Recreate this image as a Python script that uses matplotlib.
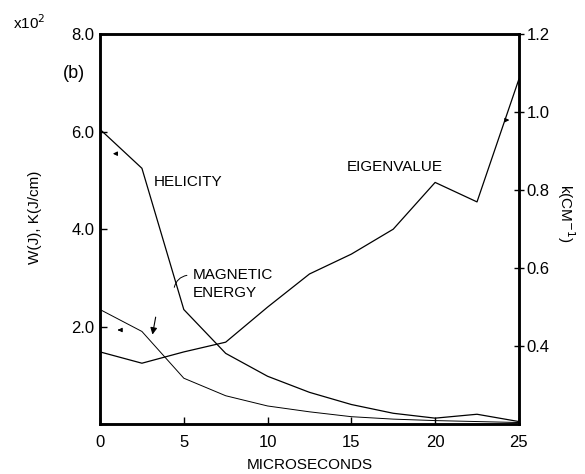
import matplotlib
matplotlib.use("Agg")
import matplotlib.pyplot as plt

plt.rcParams['font.family'] = ['Liberation Sans', 'DejaVu Sans']

# time in microseconds
t = [0, 2.5, 5, 7.5, 10, 12.5, 15, 17.5, 20, 22.5, 25]

# left axis (x10^2)
helicity = [6.05, 5.25, 2.35, 1.45, 0.98, 0.65, 0.40, 0.22, 0.12, 0.20, 0.05]
magnetic_energy = [2.35, 1.90, 0.94, 0.58, 0.37, 0.25, 0.15, 0.10, 0.07, 0.05, 0.03]

# right axis, k (cm^-1)
eigenvalue = [0.385, 0.356, 0.385, 0.41, 0.50, 0.585, 0.636, 0.70, 0.82, 0.77, 1.085]

left_ticks = [0, 2.0, 4.0, 6.0, 8.0]
left_labels = ["", "2.0", "4.0", "6.0", "8.0"]
right_ticks = [0.4, 0.6, 0.8, 1.0, 1.2]
right_labels = ["0.4", "0.6", "0.8", "1.0", "1.2"]
x_ticks = [0, 5, 10, 15, 20, 25]

fig = plt.figure(figsize=(5.85, 4.74), dpi=100)
ax = fig.add_axes([0.171, 0.1055, 0.716, 0.822])
ax2 = ax.twinx()

ax.plot(t, helicity, color='black', lw=0.9)
ax.plot(t, magnetic_energy, color='black', lw=0.7)
ax2.plot(t, eigenvalue, color='black', lw=0.9)

ax.set_xlim(0, 25)
ax.set_ylim(0, 8.0)
ax2.set_ylim(0.2, 1.2)

ax.set_xticks(x_ticks)
ax.set_xticklabels([str(v) for v in x_ticks])
ax.set_yticks(left_ticks)
ax.set_yticklabels(left_labels)
ax2.set_yticks(right_ticks)
ax2.set_yticklabels(right_labels)

for a in (ax, ax2):
    for s in a.spines.values():
        s.set_linewidth(1.8)
ax.tick_params(axis='both', direction='in', length=5, width=1, labelsize=12, pad=4)
ax.tick_params(axis='x', pad=8)
ax2.tick_params(axis='y', direction='inout', length=7, width=1, labelsize=12, pad=2)

ax.set_xlabel("MICROSECONDS", fontsize=11, labelpad=6)
ax.set_ylabel("W(J), K(J/cm)", fontsize=11)
ax.yaxis.set_label_coords(-0.138, 0.53)
ax2.set_ylabel("k(CM$^{-1}$)", fontsize=11, rotation=-90)
ax2.yaxis.set_label_coords(1.137, 0.54)

fig.text(0.022, 0.952, "x10$^2$", fontsize=11, va='center')
ax.text(-0.088, 0.9, "(b)", transform=ax.transAxes, fontsize=13, va='center')

ax.text(3.2, 4.96, "HELICITY", fontsize=11, va='center')
ax.text(5.55, 3.06, "MAGNETIC", fontsize=11, va='center')
ax.text(5.55, 2.69, "ENERGY", fontsize=11, va='center')
ax2.text(14.7, 0.86, "EIGENVALUE", fontsize=11, va='center')

# small arrows marking which axis each curve uses
ax.annotate("", xy=(0.6, 5.55), xytext=(1.1, 5.55),
            arrowprops=dict(arrowstyle='-|>', color='black', lw=0.8, mutation_scale=6))
ax.annotate("", xy=(1.05, 1.93), xytext=(1.35, 1.93),
            arrowprops=dict(arrowstyle='-|>', color='black', lw=0.8, mutation_scale=6))
ax2.annotate("", xy=(24.6, 0.98), xytext=(24.1, 0.98),
             arrowprops=dict(arrowstyle='-|>', color='black', lw=0.8, mutation_scale=6))

# leader from the magnetic energy label
ax.annotate("", xy=(4.4, 2.75), xytext=(5.35, 3.06),
            arrowprops=dict(arrowstyle='-', color='black', lw=0.7,
                            connectionstyle='arc3,rad=0.4'))
ax.annotate("", xy=(3.1, 1.78), xytext=(3.35, 2.25),
            arrowprops=dict(arrowstyle='-|>', color='black', lw=0.8, mutation_scale=10))

fig.savefig("out.png", dpi=100)
